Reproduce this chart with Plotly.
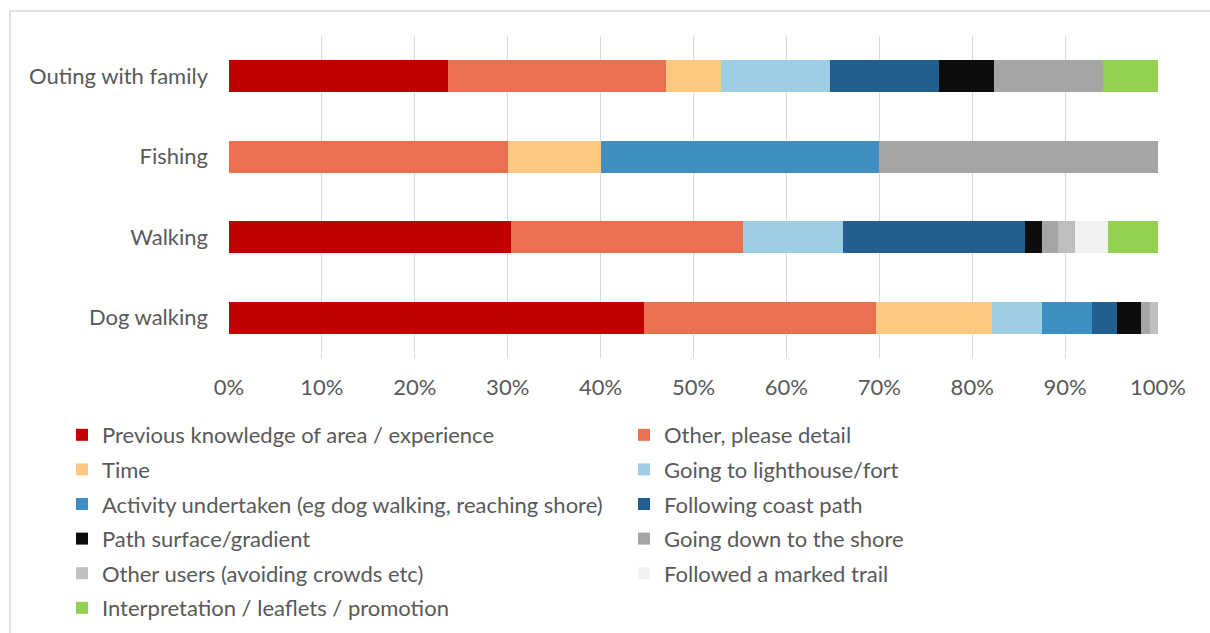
import plotly.graph_objects as go

# Activities (bottom to top on the chart)
activities = ["Dog walking", "Walking", "Fishing", "Outing with family"]

# Reasons for route choice, in stacking order
reasons = [
    "Previous knowledge of area / experience",
    "Other, please detail",
    "Time",
    "Going to lighthouse/fort",
    "Activity undertaken (eg dog walking, reaching shore)",
    "Following coast path",
    "Path surface/gradient",
    "Going down to the shore",
    "Other users (avoiding crowds etc)",
    "Followed a marked trail",
    "Interpretation / leaflets / promotion",
]

# Response counts per reason, ordered as `activities`
previous_knowledge = [50, 17, 0, 4]
other_detail = [28, 14, 3, 4]
time_reason = [14, 0, 1, 1]
lighthouse_fort = [6, 6, 0, 2]
activity_undertaken = [6, 0, 3, 0]
coast_path = [3, 11, 0, 2]
path_surface = [3, 1, 0, 1]
down_to_shore = [1, 1, 3, 2]
other_users = [1, 1, 0, 0]
marked_trail = [0, 2, 0, 0]
interpretation = [0, 3, 0, 1]

series = [
    previous_knowledge, other_detail, time_reason, lighthouse_fort,
    activity_undertaken, coast_path, path_surface, down_to_shore,
    other_users, marked_trail, interpretation,
]

colors = [
    "#C00000", "#EA7150", "#FDC981", "#9DCEE3", "#3F8FC2", "#245E91",
    "#0D0D0D", "#A5A5A5", "#BFBFBF", "#F2F2F2", "#92D050",
]

# left legend column gets the even-indexed entries, right column the odd ones
fig = go.Figure()
for i, (name, vals, col) in enumerate(zip(reasons, series, colors)):
    fig.add_trace(go.Bar(
        y=activities, x=vals, name=name, orientation="h",
        marker=dict(color=col, line=dict(width=0)),
        legend="legend" if i % 2 == 0 else "legend2",
        legendgroup=name,
    ))

FONT = "Lato, 'Open Sans', sans-serif"
TXT = "#595959"
FS = 22

W, H = 1210, 633
L, R, T, B = 229, 52, 36, 275
pw, ph = W - L - R, H - T - B

def px_x(x):
    return (x - L) / pw

def px_y(y):
    return (H - B - y) / ph

legend_common = dict(
    orientation="v", font=dict(family=FONT, size=FS, color=TXT),
    bgcolor="rgba(0,0,0,0)", tracegroupgap=3, xanchor="left", yanchor="top",
    traceorder="grouped", itemclick=False,
)

fig.update_layout(
    width=W, height=H,
    margin=dict(l=L, r=R, t=T, b=B, autoexpand=False),
    paper_bgcolor="white", plot_bgcolor="white",
    barmode="stack", barnorm="percent", bargap=0.6,
    font=dict(family=FONT, size=FS, color=TXT),
    xaxis=dict(
        range=[0, 100], dtick=10, ticksuffix="%", showgrid=True,
        gridcolor="#D9D9D9", gridwidth=1, zeroline=False, showline=False,
        tickfont=dict(family=FONT, size=FS, color=TXT), fixedrange=True,
        ticklabelstandoff=14, automargin=False,
    ),
    yaxis=dict(
        showgrid=False, zeroline=False, showline=False,
        tickfont=dict(family=FONT, size=FS, color=TXT),
        ticklabelstandoff=20, automargin=False,
    ),
    legend=dict(x=px_x(62), y=px_y(414), **legend_common),
    legend2=dict(x=px_x(624), y=px_y(414), **legend_common),
    shapes=[dict(
        type="rect", xref="paper", yref="paper",
        x0=px_x(10), x1=px_x(1216), y0=px_y(640), y1=px_y(11),
        line=dict(color="#D9D9D9", width=1.5), fillcolor="rgba(0,0,0,0)",
        layer="below",
    )],
)

fig.write_html("out.html")
